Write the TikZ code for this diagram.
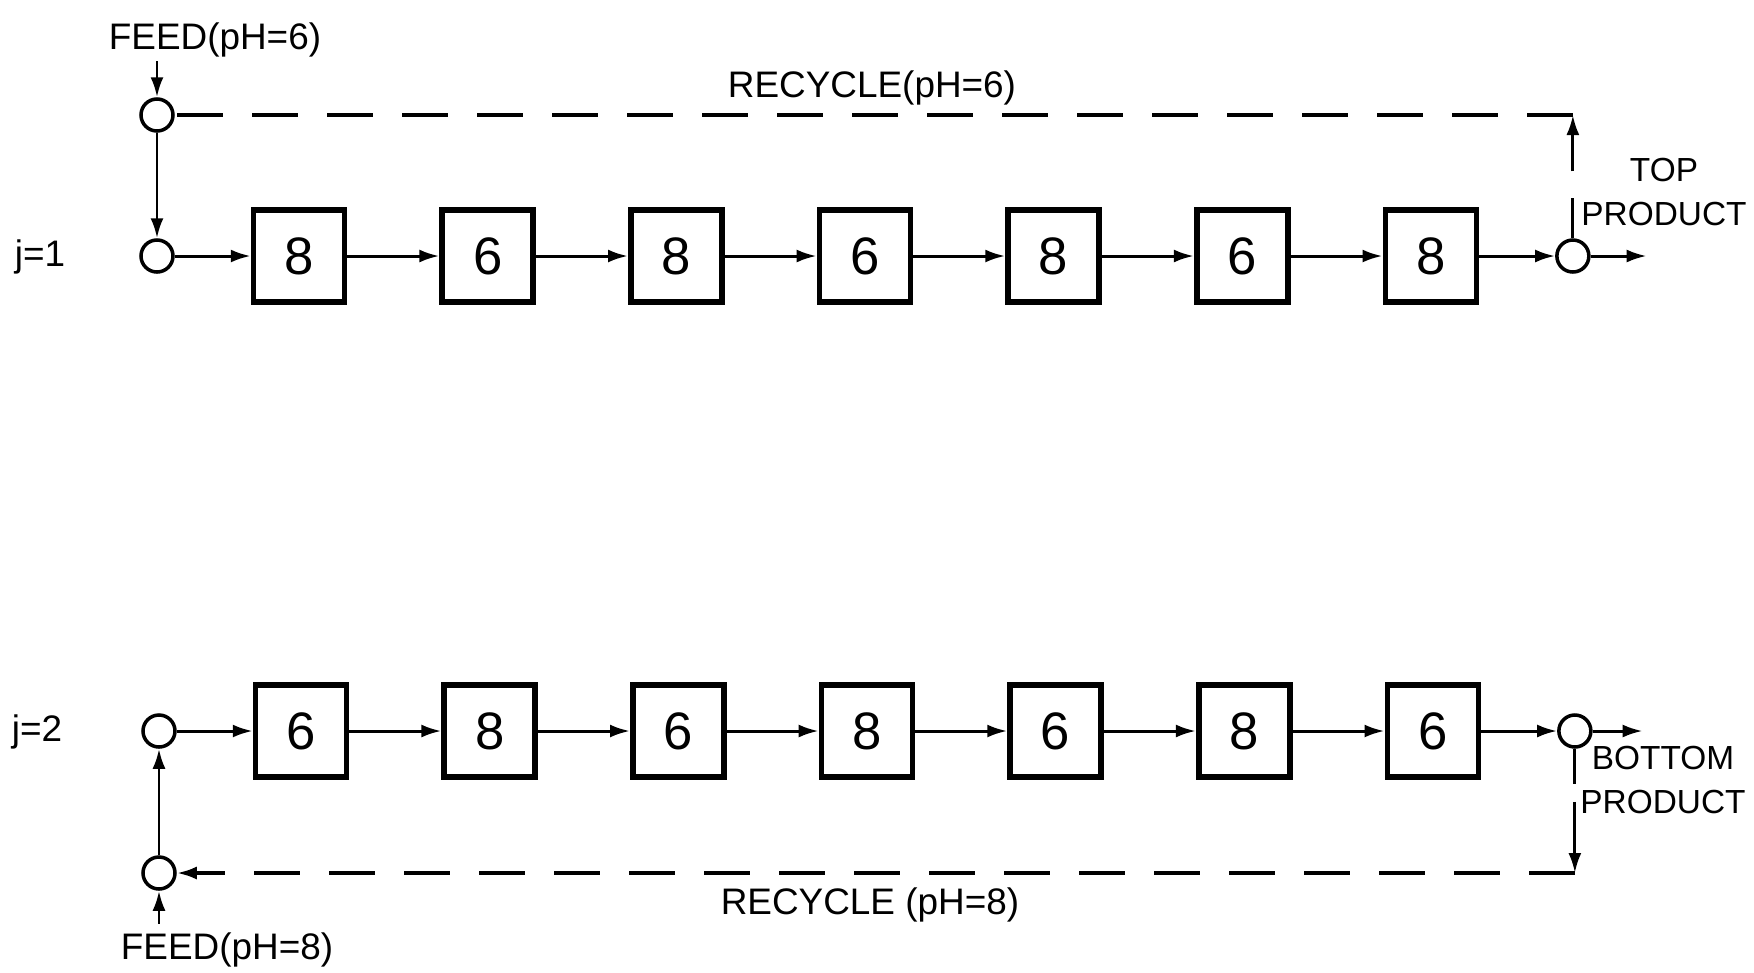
\documentclass[tikz,border=0pt]{standalone}
\usepackage{fontspec}
\setmainfont{Liberation Sans}
\usetikzlibrary{positioning, arrows.meta}
\tikzset{
    unitbox/.style={rectangle, draw, line width=1.6pt, minimum width=9.1mm, minimum height=9.2mm, inner sep=0pt, font=\fontsize{15}{15}\selectfont},
    mixnode/.style={circle, draw, line width=1pt, minimum size=3.2mm, inner sep=0pt},
    flow/.style={line width=0.85pt, -{Latex[length=2mm, width=1.3mm]}},
    recycleline/.style={line width=1pt, dash pattern=on 4.6mm off 2.9mm},
    tag/.style={inner sep=0pt, align=center, font=\fontsize{10.5}{12.4}\selectfont},
    prodtag/.style={tag, font=\fontsize{9.5}{12.4}\selectfont}
}

\begin{document}
\begin{tikzpicture}
    \useasboundingbox (0,0) rectangle (17.54,-9.72);

    % cascade j=1
    \node[tag] at (0.40,-2.57) {j=1};
    \node[mixnode] (mix1) at (1.57,-1.15) {};
    \node[mixnode] (in1) at (1.57,-2.56) {};
    \node[unitbox, right=7.6mm of in1] (a1) {8};
    \foreach \v [count=\i from 2, remember=\i as \p (initially 1)] in {6,8,6,8,6,8}
        \node[unitbox, right=9.2mm of a\p] (a\i) {\v};
    \node[mixnode, right=7.6mm of a7] (prod1) {};

    \draw[flow] (in1) -- (a1);
    \foreach \i [remember=\i as \p (initially 1)] in {2,...,7}
        \draw[flow] (a\p) -- (a\i);
    \draw[flow] (a7) -- (prod1);

    \coordinate[above=3.6mm of mix1] (feed1);
    \draw[flow] (feed1) -- (mix1);
    \draw[flow] (mix1) -- (in1);
    \node[tag] at (2.15,-0.40) {FEED(pH=6)};

    \coordinate[right=5.6mm of prod1] (out1);
    \draw[flow] (prod1) -- (out1);
    \node[prodtag] at (16.64,-1.92) {TOP\\PRODUCT};

    % recycle back to the feed
    \coordinate (rc1) at (prod1 |- mix1);
    \draw[flow, dash pattern=on 4mm off 2.7mm on 10mm] (prod1) -- (rc1);
    \draw[recycleline] (rc1) -- (mix1);
    \node[tag] at (8.72,-0.88) {RECYCLE(pH=6)};

    % cascade j=2
    \node[tag] at (0.37,-7.32) {j=2};
    \node[mixnode] (in2) at (1.59,-7.31) {};
    \node[mixnode] (mix2) at (1.59,-8.73) {};
    \node[unitbox, right=7.6mm of in2] (b1) {6};
    \foreach \v [count=\i from 2, remember=\i as \p (initially 1)] in {8,6,8,6,8,6}
        \node[unitbox, right=9.2mm of b\p] (b\i) {\v};
    \node[mixnode, right=7.6mm of b7] (prod2) {};

    \draw[flow] (in2) -- (b1);
    \foreach \i [remember=\i as \p (initially 1)] in {2,...,7}
        \draw[flow] (b\p) -- (b\i);
    \draw[flow] (b7) -- (prod2);

    \coordinate[below=3.3mm of mix2] (feed2);
    \draw[flow] (feed2) -- (mix2);
    \draw[flow] (mix2) -- (in2);
    \node[tag] at (2.27,-9.50) {FEED(pH=8)};

    \coordinate[right=5.0mm of prod2] (out2);
    \draw[flow] (prod2) -- (out2);
    \node[prodtag] at (16.63,-7.80) {BOTTOM\\PRODUCT};

    \coordinate (rc2) at (prod2 |- mix2);
    \draw[flow, dash pattern=on 3.5mm off 1.8mm on 10mm] (prod2) -- (rc2);
    \draw[flow, recycleline] (rc2) -- (mix2);
    \node[tag] at (8.70,-9.05) {RECYCLE (pH=8)};
\end{tikzpicture}
\end{document}
